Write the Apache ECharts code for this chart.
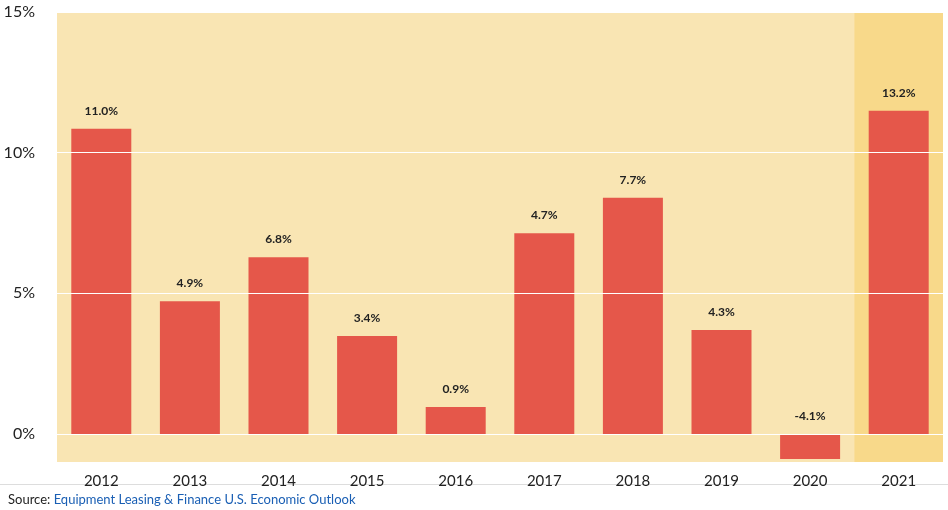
<!DOCTYPE html>
<html>
<head>
<meta charset="utf-8">
<script src="https://cdn.jsdelivr.net/npm/echarts@6/dist/echarts.min.js"></script>
</head>
<body style="margin:0">
<div id="chart" style="width:948px;height:510px"></div>
<script>
var years = ['2012','2013','2014','2015','2016','2017','2018','2019','2020','2021'];
var heights = [10.85, 4.72, 6.28, 3.48, 0.96, 7.13, 8.4, 3.69, -0.89, 11.49];
var labels = ['11.0%','4.9%','6.8%','3.4%','0.9%','4.7%','7.7%','4.3%','-4.1%','13.2%'];
var gridLevels = [0, 5, 10, 15];

var chart = echarts.init(document.getElementById('chart'));
chart.setOption({
    animation: false,
    grid: { left: 57, right: 5, top: 12, bottom: 48, show: true, backgroundColor: '#f9e5b3', borderWidth: 0 },
    xAxis: {
        type: 'category', data: years,
        axisLine: { show: false }, axisTick: { show: false },
        axisLabel: { color: '#222', fontSize: 15, margin: 12, fontFamily: 'Lato' }
    },
    yAxis: {
        type: 'value', min: -1, max: 15, interval: 1,
        splitLine: { show: false },
        axisLabel: {
            color: '#222', fontSize: 16, fontFamily: 'Lato', margin: 22,
            formatter: function (v) { return v >= 0 && v % 5 === 0 ? v + '%' : ''; }
        }
    },
    series: [{
        type: 'bar', barWidth: 60,
        data: heights.map(function (h, i) { return { value: h, label: { formatter: labels[i] } }; }),
        itemStyle: { color: '#e5574a' },
        label: { show: true, position: 'top', distance: 12, color: '#222', fontSize: 12, fontWeight: 'bold', fontFamily: 'Lato' },
        markArea: {
            silent: true, itemStyle: { color: '#f8d98a' },
            data: [[{ xAxis: '2021', yAxis: -1 }, { xAxis: '2021', yAxis: 15 }]]
        },
        markLine: {
            silent: true, symbol: 'none', label: { show: false },
            lineStyle: { color: '#ffffff', type: 'solid', width: 1 },
            data: gridLevels.map(function (v) { return { yAxis: v }; })
        },
        z: 3
    }],
    graphic: [
        { type: 'text', left: 872, top: 59, style: { text: 'F O R E C A S T', fill: '#333', fontSize: 10, fontFamily: 'Lato' } },
        { type: 'rect', left: 0, top: 484, shape: { width: 948, height: 1 }, style: { fill: '#ddd' } },
        { type: 'text', left: 8, top: 493, style: {
            text: '{a|Source: }{b|Equipment Leasing & Finance U.S. Economic Outlook}',
            rich: {
                a: { fill: '#222', fontSize: 13, fontFamily: 'Lato' },
                b: { fill: '#1a5fb4', fontSize: 13, fontFamily: 'Lato', textDecoration: 'underline' }
            }
        } }
    ]
});
</script>
</body>
</html>
